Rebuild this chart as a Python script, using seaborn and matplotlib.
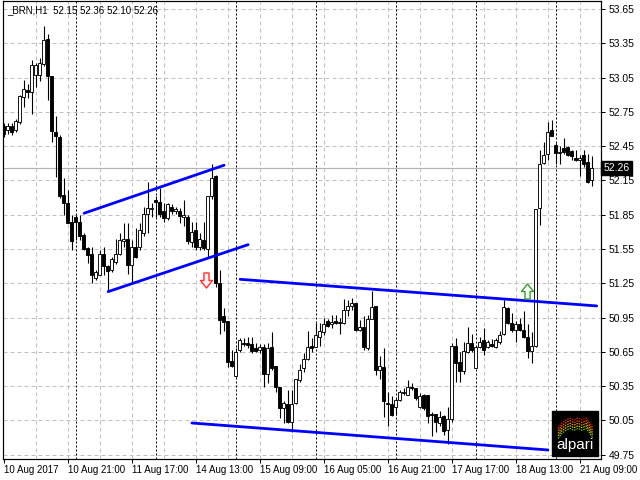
import numpy as np
import pandas as pd
import matplotlib
matplotlib.use("Agg")
import matplotlib.pyplot as plt
import matplotlib.transforms as mtransforms
from matplotlib.path import Path
from matplotlib.patches import Rectangle
import seaborn as sns

# ---------------- data ----------------
symbol_header = "_BRN,H1  52.15 52.36 52.10 52.26"

opens = [52.63, 52.59, 52.63, 52.59, 52.66, 52.88, 52.94, 52.92, 53.07, 53.07,
         53.17, 53.39, 53.06, 52.57, 52.53, 52.02, 51.95, 51.79, 51.83, 51.79,
         51.67, 51.56, 51.51, 51.30, 51.32, 51.51, 51.40, 51.37, 51.44, 51.51,
         51.62, 51.64, 51.41, 51.57, 51.57, 51.69, 51.86, 51.90, 51.98, 51.96,
         51.88, 51.82, 51.92, 51.88, 51.88, 51.83, 51.83, 51.61, 51.72, 51.57,
         51.63, 51.55, 52.01, 52.19, 51.25, 50.96, 50.92, 50.57, 50.44, 50.67,
         50.73, 50.73, 50.72, 50.68, 50.67, 50.69, 50.46, 50.69, 50.53, 50.34,
         50.16, 50.19, 50.04, 50.20, 50.40, 50.51, 50.59, 50.70, 50.69, 50.78,
         50.82, 50.92, 50.89, 50.92, 50.91, 50.90, 51.02, 51.05, 51.08, 50.84,
         50.87, 50.68, 50.94, 51.05, 50.49, 50.52, 50.20, 50.19, 50.17, 50.23,
         50.29, 50.27, 50.34, 50.33, 50.17, 50.27, 50.27, 50.11, 50.11, 50.03,
         50.09, 49.97, 50.06, 50.70, 50.56, 50.48, 50.65, 50.73, 50.51, 50.69,
         50.75, 50.69, 50.72, 50.69, 50.74, 50.81, 51.03, 50.90, 50.84, 50.89,
         50.84, 50.78, 50.66, 50.70, 51.91, 52.30, 52.38, 52.59, 52.46, 52.39,
         52.43, 52.44, 52.41, 52.35, 52.33, 52.37, 52.31, 52.15]
highs = [52.65, 52.65, 52.65, 52.69, 52.90, 53.03, 52.99, 53.20, 53.18, 53.22,
         53.50, 53.43, 53.06, 52.71, 52.55, 52.17, 52.07, 51.85, 51.85, 51.85,
         51.69, 51.57, 51.57, 51.37, 51.54, 51.57, 51.41, 51.48, 51.64, 51.69,
         51.78, 51.78, 51.63, 51.73, 51.78, 51.92, 52.14, 51.95, 52.01, 52.08,
         51.95, 51.95, 51.94, 51.92, 51.91, 51.98, 51.85, 51.79, 51.79, 51.69,
         51.79, 52.01, 52.29, 52.20, 51.37, 51.03, 50.92, 50.67, 50.68, 50.77,
         50.77, 50.78, 50.78, 50.73, 50.72, 50.72, 50.73, 50.82, 50.53, 50.34,
         50.22, 50.32, 50.32, 50.41, 50.54, 50.64, 50.83, 50.77, 50.90, 50.90,
         50.95, 50.94, 50.97, 50.97, 50.95, 51.11, 51.10, 51.12, 51.08, 50.93,
         50.96, 50.97, 51.18, 51.05, 50.61, 50.68, 50.30, 50.26, 50.25, 50.32,
         50.33, 50.40, 50.38, 50.33, 50.29, 50.28, 50.27, 50.12, 50.11, 50.13,
         50.10, 50.17, 50.73, 50.77, 50.65, 50.74, 50.87, 50.81, 50.70, 50.78,
         50.86, 50.75, 50.76, 50.77, 50.83, 51.10, 51.04, 50.99, 50.92, 50.95,
         51.01, 50.89, 50.82, 51.90, 52.42, 52.49, 52.66, 52.68, 52.48, 52.45,
         52.52, 52.45, 52.42, 52.42, 52.37, 52.42, 52.38, 52.36]
lows = [52.53, 52.56, 52.55, 52.57, 52.64, 52.79, 52.87, 52.73, 52.97, 53.02,
        53.15, 52.85, 52.49, 52.18, 52.00, 51.85, 51.78, 51.54, 51.63, 51.63,
        51.54, 51.43, 51.25, 51.28, 51.32, 51.32, 51.18, 51.35, 51.42, 51.50,
        51.57, 51.33, 51.25, 51.47, 51.54, 51.66, 51.69, 51.83, 51.83, 51.83,
        51.79, 51.80, 51.86, 51.86, 51.78, 51.75, 51.59, 51.57, 51.54, 51.54,
        51.54, 51.48, 51.99, 51.22, 50.81, 50.83, 50.52, 50.52, 50.43, 50.65,
        50.70, 50.68, 50.64, 50.65, 50.64, 50.34, 50.38, 50.49, 50.30, 50.07,
        50.03, 50.03, 49.95, 50.19, 50.39, 50.47, 50.58, 50.65, 50.69, 50.70,
        50.80, 50.87, 50.86, 50.89, 50.81, 50.89, 50.96, 51.02, 50.83, 50.83,
        50.67, 50.67, 50.94, 50.45, 50.41, 50.08, 50.00, 50.09, 50.10, 50.22,
        50.27, 50.27, 50.32, 50.23, 50.16, 50.14, 50.03, 49.91, 49.95, 50.00,
        49.92, 49.84, 50.04, 50.39, 50.39, 50.46, 50.64, 50.65, 50.51, 50.68,
        50.62, 50.68, 50.69, 50.68, 50.72, 50.80, 50.89, 50.82, 50.74, 50.83,
        50.77, 50.60, 50.55, 50.69, 51.76, 52.29, 52.33, 52.54, 52.29, 52.29,
        52.38, 52.36, 52.33, 52.32, 52.19, 52.27, 52.13, 52.10]
closes = [52.56, 52.63, 52.57, 52.67, 52.89, 52.95, 52.92, 53.16, 53.16, 53.18,
          53.38, 53.06, 52.58, 52.54, 52.01, 51.95, 51.78, 51.62, 51.79, 51.66,
          51.55, 51.50, 51.32, 51.35, 51.51, 51.40, 51.36, 51.46, 51.51, 51.63,
          51.64, 51.41, 51.57, 51.48, 51.72, 51.86, 51.91, 51.91, 51.96, 51.86,
          51.82, 51.94, 51.88, 51.90, 51.84, 51.85, 51.62, 51.70, 51.57, 51.64,
          51.56, 52.01, 52.17, 51.25, 50.93, 50.91, 50.56, 50.53, 50.65, 50.75,
          50.72, 50.71, 50.66, 50.66, 50.69, 50.46, 50.68, 50.51, 50.34, 50.16,
          50.20, 50.04, 50.19, 50.41, 50.49, 50.59, 50.69, 50.68, 50.80, 50.83,
          50.89, 50.88, 50.91, 50.90, 50.90, 51.02, 51.05, 51.08, 50.84, 50.87,
          50.69, 50.94, 51.04, 50.49, 50.53, 50.22, 50.19, 50.10, 50.23, 50.30,
          50.30, 50.34, 50.33, 50.25, 50.26, 50.16, 50.09, 50.10, 50.04, 50.08,
          49.96, 50.06, 50.70, 50.55, 50.48, 50.66, 50.73, 50.67, 50.69, 50.74,
          50.67, 50.74, 50.70, 50.75, 50.80, 51.04, 50.90, 50.84, 50.89, 50.84,
          50.78, 50.66, 50.70, 51.90, 52.29, 52.37, 52.57, 52.54, 52.39, 52.40,
          52.40, 52.37, 52.36, 52.33, 52.35, 52.29, 52.14, 52.26]

time_labels = ["10 Aug 2017", "10 Aug 21:00", "11 Aug 17:00", "14 Aug 13:00",
               "15 Aug 09:00", "16 Aug 05:00", "16 Aug 21:00", "17 Aug 17:00",
               "18 Aug 13:00", "21 Aug 09:00"]
label_bars = [0, 16, 32, 48, 64, 80, 96, 112, 128, 144]
grid_bars = [8, 16, 24, 32, 40, 48, 56, 64, 72, 80, 88, 96, 104, 112, 120,
             128, 136, 144]
separator_bars = [18.1, 38.1, 58.1, 78.1, 98.1, 118.1, 138.1]
price_ticks = [49.75, 50.05, 50.35, 50.65, 50.95, 51.25, 51.55, 51.85,
               52.15, 52.45, 52.75, 53.05, 53.35, 53.65]

# trend lines: (bar, price) end points
channel_up_bars, channel_up_prices = [20.15, 55.15], [51.863, 52.283]
channel_lo_bars, channel_lo_prices = [26.15, 61.15], [51.177, 51.588]
resist_bars, resist_prices = [59.15, 148.3], [51.285, 51.052]
support_bars, support_prices = [47.1, 136.1], [50.028, 49.792]

sell_bar, sell_price = [50.6], [51.283]
buy_bar, buy_price = [130.9], [51.18]

# ---------------- style ----------------
sns.set_style("white")
plt.rcParams['font.family'] = ['Liberation Sans', 'DejaVu Sans']
plt.rcParams['lines.scale_dashes'] = True

W, H = 640, 480
fig = plt.figure(figsize=(6.4, 4.8), dpi=100)
fig.patch.set_facecolor('white')
ax = fig.add_axes([2.5 / W, 1 - 459 / H, 598.5 / W, 458.5 / H])
ax.set_facecolor('white')

df = pd.DataFrame({"o": opens, "h": highs, "l": lows, "c": closes})
df["bar"] = np.arange(len(df))
up = df["c"] >= df["o"]

PX = 0.72  # one pixel in points

# grid
for p in price_ticks:
    ax.axhline(p, color='#c0c0c0', lw=PX, dashes=(4, 3), zorder=1)
for b in grid_bars:
    ax.axvline(b, color='#c0c0c0', lw=PX, dashes=(4, 3), zorder=1)
for b in separator_bars:
    ax.axvline(b, color='black', lw=PX, dashes=(2, 2), zorder=1.5)

# current price line
ax.axhline(closes[-1], color='#b4b4b4', lw=PX * 1.2, zorder=1.6)

# candles
ax.vlines(df["bar"], df["l"], df["h"], color='black', lw=PX * 1.1, zorder=3)
body_h = np.maximum((df["c"] - df["o"]).abs(), 0.004)
body_b = np.minimum(df["o"], df["c"])
ax.bar(df["bar"], body_h, bottom=body_b, width=0.72,
       color=np.where(up, 'white', 'black'), edgecolor='black',
       linewidth=PX * 0.9, zorder=4)

# trend lines
for xs, ys in [(channel_up_bars, channel_up_prices),
               (channel_lo_bars, channel_lo_prices),
               (resist_bars, resist_prices),
               (support_bars, support_prices)]:
    sns.lineplot(x=xs, y=ys, ax=ax, color='#0000ff', linewidth=2.0,
                 estimator=None, sort=False, zorder=5)

# arrows
down_verts = [(-0.17, 0.5), (0.17, 0.5), (0.17, 0.0), (0.4, 0.0), (0.0, -0.5),
              (-0.4, 0.0), (-0.17, 0.0), (-0.17, 0.5)]
codes = [Path.MOVETO] + [Path.LINETO] * 6 + [Path.CLOSEPOLY]
down_path = Path(down_verts, codes)
up_path = Path([(x, -y) for x, y in down_verts], codes)
ax.scatter(sell_bar, sell_price, marker=down_path, s=117, facecolor='#fff0f0',
           edgecolor='#ff3030', linewidth=1.0, zorder=6)
ax.scatter(buy_bar, buy_price, marker=up_path, s=117, facecolor='white',
           edgecolor='#3a9a30', linewidth=1.0, zorder=6)

# limits / axes
ax.set_xlim(-0.25, 149.375)
ax.set_ylim(49.713, 53.724)
for s in ax.spines.values():
    s.set_visible(True)
    s.set_color('black')
    s.set_linewidth(PX * 1.2)

ax.yaxis.tick_right()
ax.set_yticks(price_ticks)
ax.set_yticklabels([f"{p:.2f}" for p in price_ticks])
ax.tick_params(axis='y', which='both', right=True, length=3, width=PX,
               pad=2.5, labelsize=7.5, colors='black', direction='out')
ax.set_xticks(label_bars)
ax.set_xticklabels(time_labels, ha='left')
ax.tick_params(axis='x', which='major', bottom=True, length=3, width=PX,
               pad=1.5, labelsize=7.0, colors='black', direction='out')
for lbl in ax.get_xticklabels():
    lbl.set_horizontalalignment('left')
ax.set_xlabel("")
ax.set_ylabel("")

# current price box on the right
trans = mtransforms.blended_transform_factory(ax.transAxes, ax.transData)
ax.text(1.004, closes[-1], f"{closes[-1]:.2f}", transform=trans, ha='left',
        va='center', color='white', fontsize=7.5, zorder=10, clip_on=False,
        bbox=dict(boxstyle='square,pad=0.2', facecolor='black', edgecolor='black'))

# header text
fig.text(7 / W, 1 - 10 / H, symbol_header, ha='left', va='center',
         fontsize=7.0, color='black')

# alpari logo
ax.add_patch(Rectangle((552 / W, 1 - 456 / H), 46 / W, 45 / H,
                       transform=fig.transFigure, facecolor='black',
                       edgecolor='black', zorder=8))
wave_x = [558, 562, 566, 570, 574, 578, 582, 586, 590, 593]
wave_y = [428, 423, 420, 418, 420, 418, 420, 418, 423, 428]
wave_colors = ['#e02020', '#f05a14', '#f09a10', '#d8c818', '#70b828']
for k, col in enumerate(wave_colors):
    ax.plot([x / W for x in wave_x], [1 - (y + 2.6 * k) / H for y in wave_y],
            transform=fig.transFigure, color=col, lw=0.8, dashes=(1.5, 0.8),
            zorder=9)
fig.text(575 / W, 1 - 445 / H, "alpari", ha='center', va='center',
         color='white', fontsize=11, zorder=10)

fig.savefig("out.png", dpi=100, facecolor='white')
